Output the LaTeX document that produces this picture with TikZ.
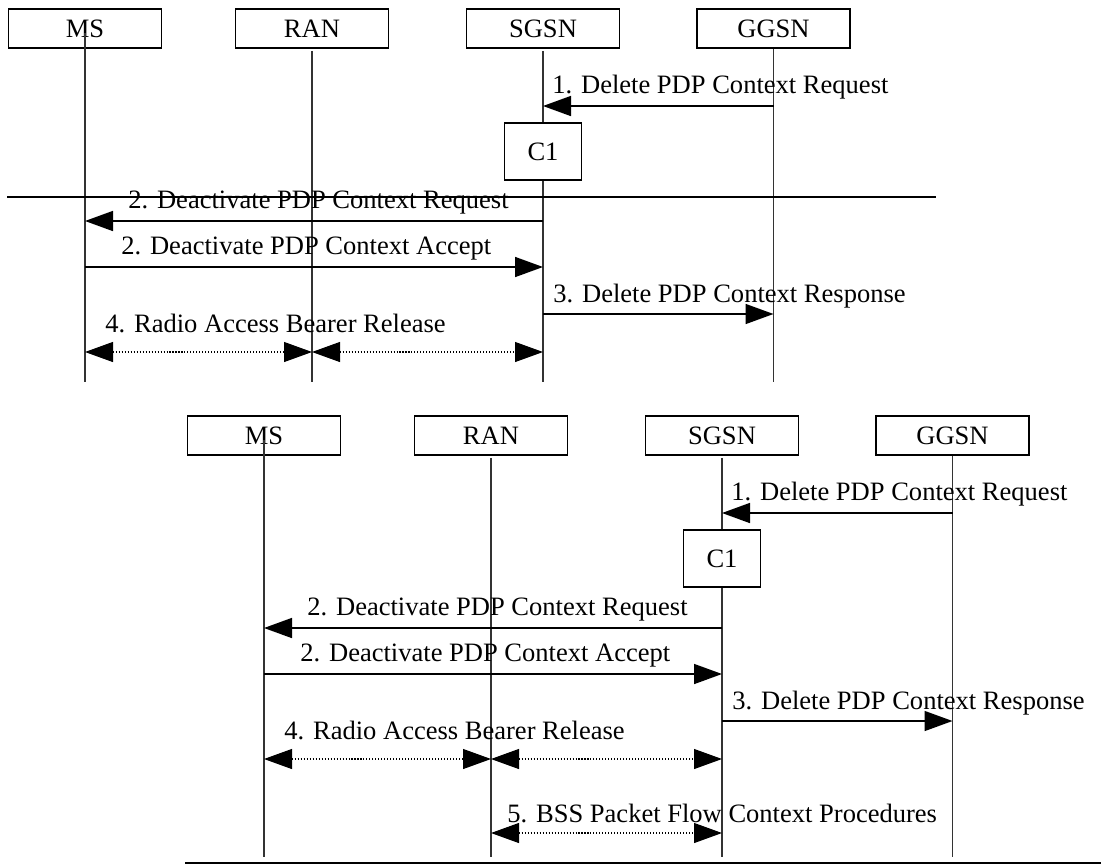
\documentclass[tikz,border=0pt]{standalone}
\usepackage{fontspec}
\setmainfont{Liberation Serif}
\usetikzlibrary{arrows.meta}

\begin{document}
\begin{tikzpicture}[
  entity/.style={draw, fill=white, line width=0.9pt, minimum width=3.06cm, minimum height=0.78cm, inner sep=0pt, font=\fontsize{15.1}{18}\selectfont},
  proc/.style={entity, minimum width=1.54cm, minimum height=1.14cm},
  lbl/.style={inner sep=0pt, anchor=base west, font=\fontsize{15.1}{18}\selectfont},
  life/.style={line width=0.6pt, black!80},
  msg/.style={-{Triangle[length=0.56cm, width=0.4cm]}, line width=0.9pt},
  dotmsg/.style={{Triangle[length=0.56cm, width=0.4cm]}-{Triangle[length=0.56cm, width=0.4cm]}, line width=0.6pt, dash pattern=on 0.6pt off 1.1pt},
  rule/.style={line width=1.1pt}
]
\useasboundingbox (0,0) rectangle (22.02,-17.28);

% ---------- first chart ----------
\begin{scope}
  \node[entity] (msA)   at (1.70,-0.57)  {MS};
  \node[entity] (ranA)  at (6.24,-0.57)  {RAN};
  \node[entity] (sgsnA) at (10.86,-0.57) {SGSN};
  \node[entity] (ggsnA) at (15.47,-0.57) {GGSN};

  \coordinate (endA) at (0,-7.64);
  \draw[life] ([yshift=0.32cm]msA.south) -- (msA |- endA);
  \draw[life] ([yshift=-0.04cm]ranA.south) -- (ranA |- endA);
  \draw[life] ([yshift=-0.04cm]sgsnA.south) -- (sgsnA |- endA);
  \draw[life] (ggsnA.south) -- (ggsnA |- endA);

  \coordinate (m1A) at (0,-2.12);
  \coordinate (m2A) at (0,-4.42);
  \coordinate (m3A) at (0,-5.34);
  \coordinate (m4A) at (0,-6.28);
  \coordinate (m5A) at (0,-7.04);

  \draw[msg] (ggsnA |- m1A) -- (sgsnA |- m1A);
  \node[lbl] (t1A) at (11.04,-1.86) {1. Delete PDP Context Request};

  \node[proc] (c1A) at (10.86,-3.03) {C1};

  \coordinate (ruleL) at (0.14,-3.94);
  \coordinate (ruleR) at (18.72,-3.94);
  \draw[rule] (ruleL) -- (ruleR);

  \draw[msg] (sgsnA |- m2A) -- (msA |- m2A);
  \node[lbl] (t2A) at (2.56,-4.16) {2. Deactivate PDP Context Request};

  \draw[msg] (msA |- m3A) -- (sgsnA |- m3A);
  \node[lbl] (t3A) at (2.42,-5.08) {2. Deactivate PDP Context Accept};

  \draw[msg] (sgsnA |- m4A) -- (ggsnA |- m4A);
  \node[lbl] (t4A) at (11.06,-6.04) {3. Delete PDP Context Response};

  \draw[dotmsg] (msA |- m5A) -- (ranA |- m5A);
  \draw[dotmsg] (ranA |- m5A) -- (sgsnA |- m5A);
  \node[lbl] (t5A) at (2.10,-6.64) {4. Radio Access Bearer Release};
\end{scope}

% ---------- second chart ----------
\begin{scope}[shift={(3.58,-8.14)}]
  \node[entity] (msB)   at (1.70,-0.57)  {MS};
  \node[entity] (ranB)  at (6.24,-0.57)  {RAN};
  \node[entity] (sgsnB) at (10.86,-0.57) {SGSN};
  \node[entity] (ggsnB) at (15.47,-0.57) {GGSN};

  \coordinate (endB) at (0,-9.0);
  \draw[life] ([yshift=0.32cm]msB.south) -- (msB |- endB);
  \draw[life] ([yshift=-0.04cm]ranB.south) -- (ranB |- endB);
  \draw[life] ([yshift=-0.04cm]sgsnB.south) -- (sgsnB |- endB);
  \draw[life] (ggsnB.south) -- (ggsnB |- endB);

  \coordinate (m1B) at (0,-2.12);
  \coordinate (m2B) at (0,-4.42);
  \coordinate (m3B) at (0,-5.34);
  \coordinate (m4B) at (0,-6.28);
  \coordinate (m5B) at (0,-7.04);
  \coordinate (m6B) at (0,-8.52);

  \draw[msg] (ggsnB |- m1B) -- (sgsnB |- m1B);
  \node[lbl] (t1B) at (11.04,-1.86) {1. Delete PDP Context Request};

  \node[proc] (c1B) at (10.86,-3.03) {C1};

  \draw[msg] (sgsnB |- m2B) -- (msB |- m2B);
  \node[lbl] (t2B) at (2.56,-4.16) {2. Deactivate PDP Context Request};

  \draw[msg] (msB |- m3B) -- (sgsnB |- m3B);
  \node[lbl] (t3B) at (2.42,-5.08) {2. Deactivate PDP Context Accept};

  \draw[msg] (sgsnB |- m4B) -- (ggsnB |- m4B);
  \node[lbl] (t4B) at (11.06,-6.04) {3. Delete PDP Context Response};

  \draw[dotmsg] (msB |- m5B) -- (ranB |- m5B);
  \draw[dotmsg] (ranB |- m5B) -- (sgsnB |- m5B);
  \node[lbl] (t5B) at (2.10,-6.64) {4. Radio Access Bearer Release};

  \draw[dotmsg] (ranB |- m6B) -- (sgsnB |- m6B);
  \node[lbl] (t6B) at (6.56,-8.30) {5. BSS Packet Flow Context Procedures};

  \coordinate (footL) at (0.12,-9.12);
  \coordinate (footR) at (18.44,-9.12);
  \draw[rule] (footL) -- (footR);
\end{scope}

\end{tikzpicture}
\end{document}
